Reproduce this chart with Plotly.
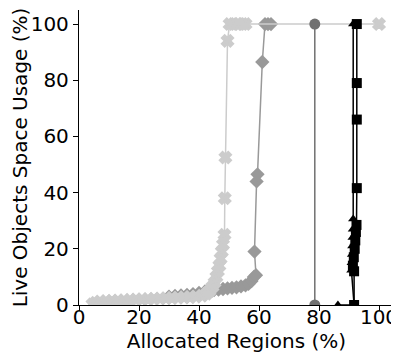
import plotly.graph_objects as go

# Allocated regions (%) vs live objects space usage (%)
light_x = [4.5, 5.5, 7, 9, 11, 13, 15, 17, 19, 21, 23, 25, 27, 29, 31, 33, 35, 37, 39, 41,
           42.5, 43.5, 44.5, 45.2, 45.8, 46.3, 46.8, 47.2, 47.6, 48.0, 48.5, 48.6, 48.8, 49.5,
           50.2, 51.5, 53, 54.5, 55.5, 100]
light_y = [0.2, 0.8, 1.2, 1.4, 1.5, 1.6, 1.7, 1.8, 1.9, 2.0, 2.1, 2.2, 2.3, 2.4, 2.5, 2.6, 2.7, 2.8, 3.0, 3.3,
           4.0, 5.0, 6.5, 8, 10, 12, 14, 16.5, 19, 21.5, 25, 38, 52.5, 94,
           100, 100, 100, 100, 100, 100]

mid_x = [30, 32, 34, 36, 38, 40, 42, 43.5, 45, 46.5, 48, 49.5, 51, 52.5, 54, 55.5, 56.5, 57.5,
         58.3, 59, 58.5, 59.2, 59.5, 61.1, 62, 63, 64]
mid_y = [3.0, 3.2, 3.4, 3.6, 3.9, 4.3, 4.8, 5.2, 5.3, 5.5, 5.7, 5.9, 6.1, 6.3, 6.6, 7.0, 7.5, 8.5,
         10, 10.6, 19, 44, 46.5, 86.5, 100, 100, 100]

circ_x = [78.6, 78.6]
circ_y = [0, 100]

tri_x = [86.3, 91.7, 90.8, 90.9, 91.0, 91.1, 91.2, 91.3, 91.4, 91.4]
tri_y = [0, 0, 12.4, 15, 18, 21, 24, 27, 30.6, 100]

sq_x = [91.7, 91.7, 91.3, 91.6, 91.9, 92.1, 92.3, 92.5, 92.6, 92.6, 92.6, 92.6]
sq_y = [0, 12, 14, 17, 20, 23, 26, 28.5, 41.6, 66, 79, 100]

series = [
    (mid_x, mid_y, "#999999", "diamond", 11, 0),
    (light_x, light_y, "#cccccc", "x", 10, 2),
    (circ_x, circ_y, "#707070", "circle", 11, 0),
    (tri_x, tri_y, "#000000", "triangle-up", 9, 0),
    (sq_x, sq_y, "#000000", "square", 10, 0),
]

FONT = dict(family="DejaVu Sans", size=20, color="black")

fig = go.Figure()
for xs, ys, color, symbol, size, edge in series:
    fig.add_trace(go.Scatter(
        x=xs, y=ys, mode="lines+markers",
        line=dict(color=color, width=1.5),
        marker=dict(symbol=symbol, size=size, color=color, line=dict(color=color, width=edge)),
        showlegend=False,
    ))

axis_style = dict(
    showgrid=False, zeroline=False, showline=True, linecolor="black", linewidth=1.3,
    ticks="outside", ticklen=5, tickwidth=1.2, tickcolor="black",
    tickfont=FONT, tickvals=[0, 20, 40, 60, 80, 100], automargin=False,
)
fig.update_xaxes(range=[0, 105], ticklabelstandoff=-11,
                 title=dict(text="Allocated Regions (%)", standoff=5, font=FONT), **axis_style)
fig.update_yaxes(range=[0, 105],
                 title=dict(text="Live Objects Space Usage (%)", standoff=8, font=FONT), **axis_style)
# the page body adds an 8px margin, so the figure is drawn 8px smaller
fig.update_layout(
    width=391, height=349,
    margin=dict(l=71, r=5, t=2, b=52),
    plot_bgcolor="white", paper_bgcolor="white",
)
fig.write_html("out.html")
